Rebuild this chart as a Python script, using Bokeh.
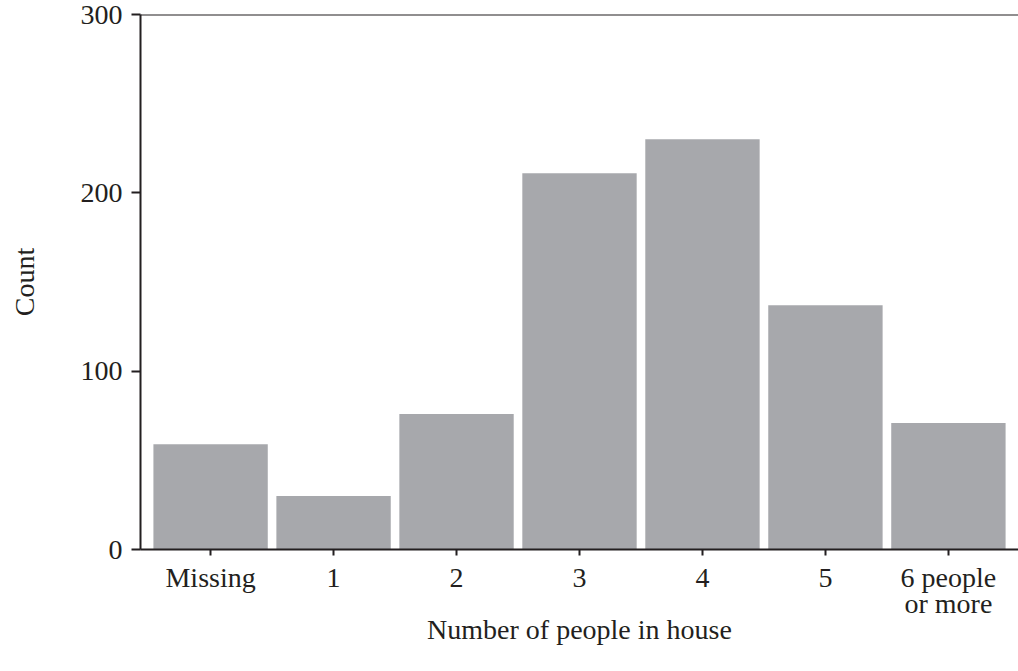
from bokeh.plotting import figure
from bokeh.models import FactorRange, Range1d, FixedTicker, Span
from bokeh.embed import file_html
from bokeh.resources import INLINE

categories = ["Missing", "1", "2", "3", "4", "5", "6 people\nor more"]
counts = [59, 30, 76, 211, 230, 137, 71]
y_ticks = [0, 100, 200, 300]

FONT = "Liberation Serif"
INK = "#231f20"
BAR = "#a7a8ac"

p = figure(width=1018, height=671,
           x_range=FactorRange(*categories, range_padding=0.02),
           y_range=Range1d(0, 300),
           output_backend="svg", toolbar_location=None,
           min_border_left=140, min_border_right=0,
           min_border_top=14, min_border_bottom=122)

p.vbar(x=categories, top=counts, width=0.93, color=BAR, line_color=None)

p.outline_line_color = None
p.xgrid.grid_line_color = None
p.ygrid.grid_line_color = None
p.background_fill_color = "white"
p.border_fill_color = "white"

p.add_layout(Span(location=300, dimension="width", line_color=INK, line_width=2))

for ax in (p.xaxis[0], p.yaxis[0]):
    ax.axis_line_color = INK
    ax.axis_line_width = 2
    ax.major_tick_line_color = INK
    ax.major_tick_line_width = 2
    ax.major_tick_in = 0
    ax.minor_tick_line_color = None
    ax.major_label_text_font = FONT
    ax.major_label_text_font_size = "28px"
    ax.major_label_text_color = INK
    ax.axis_label_text_font = FONT
    ax.axis_label_text_font_size = "28px"
    ax.axis_label_text_font_style = "normal"
    ax.axis_label_text_color = INK

p.yaxis.ticker = FixedTicker(ticks=y_ticks)
p.yaxis.major_tick_out = 9
p.yaxis.major_label_standoff = 9
p.yaxis.axis_label = "Count"
p.yaxis.axis_label_standoff = 38

p.xaxis.major_tick_out = 6
p.xaxis.major_label_standoff = 6
p.xaxis.major_label_text_line_height = 0.85
p.xaxis.axis_label = "Number of people in house"
p.xaxis.axis_label_standoff = -8

open("out.html", "w").write(file_html(p, INLINE))
